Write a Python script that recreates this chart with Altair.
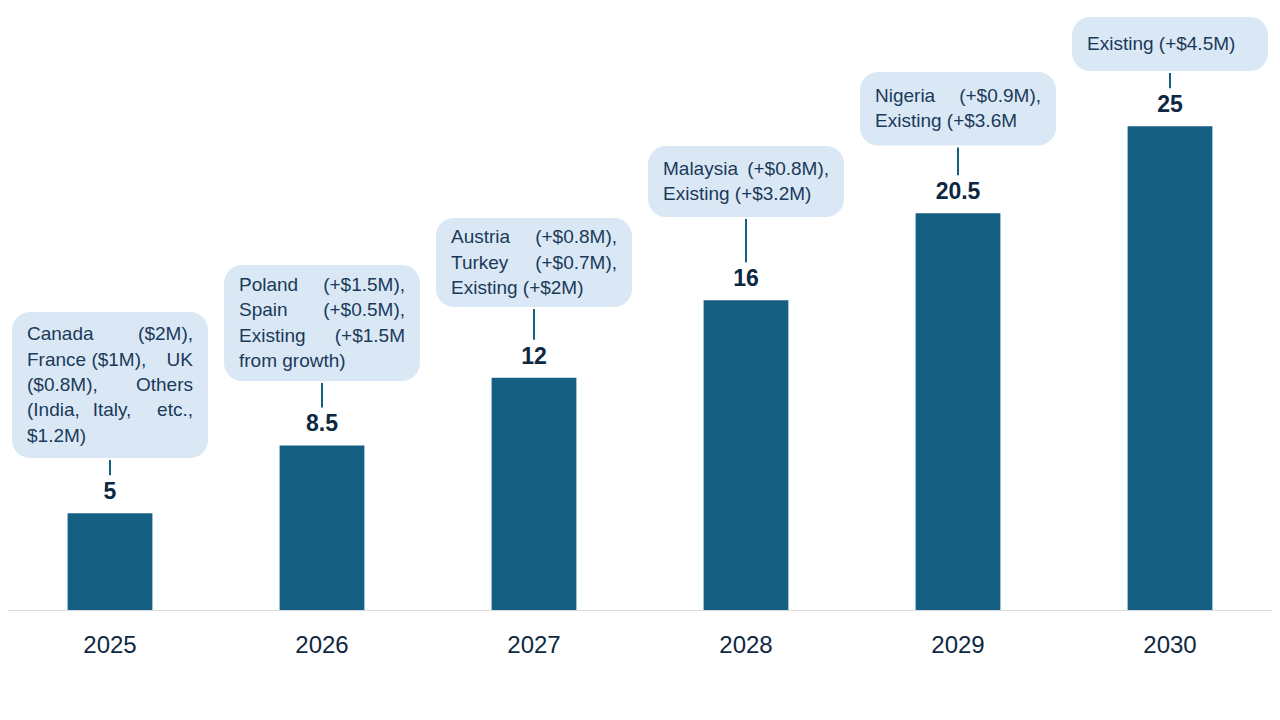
import altair as alt
import pandas as pd

years = ["2025", "2026", "2027", "2028", "2029", "2030"]
revenue = [5, 8.5, 12, 16, 20.5, 25]

# callout text, split into left / centre / right columns per line (emulates justified text)
note_left = [
    ["Canada", "France ($1M),", "($0.8M),", "(India,", "$1.2M)"],
    ["Poland", "Spain", "Existing", "from growth)"],
    ["Austria", "Turkey", "Existing (+$2M)"],
    ["Malaysia", "Existing (+$3.2M)"],
    ["Nigeria", "Existing (+$3.6M"],
    ["Existing (+$4.5M)"],
]
note_mid = [
    ["", "", "", "Italy,", ""],
    ["", "", "", ""],
    ["", "", ""],
    ["", ""],
    ["", ""],
    [""],
]
note_right = [
    ["($2M),", "UK", "Others", "etc.,", ""],
    ["(+$1.5M),", "(+$0.5M),", "(+$1.5M", ""],
    ["(+$0.8M),", "(+$0.7M),", ""],
    ["(+$0.8M),", ""],
    ["(+$0.9M),", ""],
    [""],
]
# callout extents (in chart value units)
note_low = [7.85, 11.83, 15.65, 20.3, 24.0, 27.85]
note_high = [15.4, 17.82, 20.25, 23.97, 27.8, 30.64]

df = pd.DataFrame({"year": years, "value": revenue, "lo": note_low, "hi": note_high})

rows = []
for yr, lo, hi, L, M, R in zip(years, note_low, note_high, note_left, note_mid, note_right):
    n = len(L)
    for i in range(n):
        for col, parts in (("L", L), ("M", M), ("R", R)):
            if parts[i]:
                rows.append({"year": yr, "lo": lo, "hi": hi, "n": n, "i": i,
                             "col": col, "txt": parts[i]})
seg = pd.DataFrame(rows)

FONT = "Liberation Sans"
BAR = "#155F82"
NAVY = "#0E2841"
NOTE_TXT = "#1B3A5A"
BOX = "#DAE8F5"

Y_MAX = 31
PLOT_H = 600
LINE_PX = 25.3
line_step = LINE_PX / (PLOT_H / Y_MAX)

x = alt.X(
    "year:N",
    sort=years,
    scale=alt.Scale(range=[-4, 1268], paddingInner=0.6, paddingOuter=0.3),
    axis=alt.Axis(
        title=None, labelAngle=0, ticks=False, grid=False,
        domainColor="#D9D9D9", domainWidth=1,
        labelFontSize=24, labelColor=NAVY, labelFont=FONT, labelPadding=23,
    ),
)
yscale = alt.Scale(domain=[0, Y_MAX], nice=False, zero=True)

base = alt.Chart(df)

bars = base.mark_bar(color=BAR).encode(
    x=x, y=alt.Y("value:Q", scale=yscale, axis=None)
)

labels = base.mark_text(
    baseline="alphabetic", dy=-14, fontSize=23, fontWeight="bold", color=NAVY, font=FONT
).encode(x=x, y=alt.Y("value:Q", scale=yscale), text=alt.Text("value:Q", format="~g"))

boxes = base.mark_bar(width=196, cornerRadius=18, color=BOX).encode(
    x=x, y=alt.Y("lo:Q", scale=yscale), y2="hi:Q"
)

rules = base.mark_rule(color=BAR, strokeWidth=2, yOffset=2, y2Offset=-38).encode(
    x=x, y=alt.Y("lo:Q", scale=yscale), y2="value:Q"
)

tbase = alt.Chart(seg).transform_calculate(
    ty=f"(datum.lo + datum.hi) / 2 + ((datum.n - 1) / 2 - datum.i) * {line_step}"
)
tstyle = dict(baseline="middle", fontSize=19, color=NOTE_TXT, font=FONT)

txt_layers = []
for col, align, dx in (("L", "left", -83), ("M", "center", 2), ("R", "right", 83)):
    txt_layers.append(
        tbase.transform_filter(alt.datum.col == col)
        .mark_text(align=align, dx=dx, **tstyle)
        .encode(x=x, y=alt.Y("ty:Q", scale=yscale), text="txt:N")
    )

chart = (
    alt.layer(bars, boxes, rules, labels, *txt_layers)
    .properties(
        width=1264, height=PLOT_H,
        autosize=alt.AutoSizeParams(type="none"),
        padding={"left": 0, "top": 2, "right": 0, "bottom": 70},
        background="white",
    )
    .configure_view(stroke=None)
)

chart.save("out.html", embed_options={"renderer": "svg", "actions": False})
